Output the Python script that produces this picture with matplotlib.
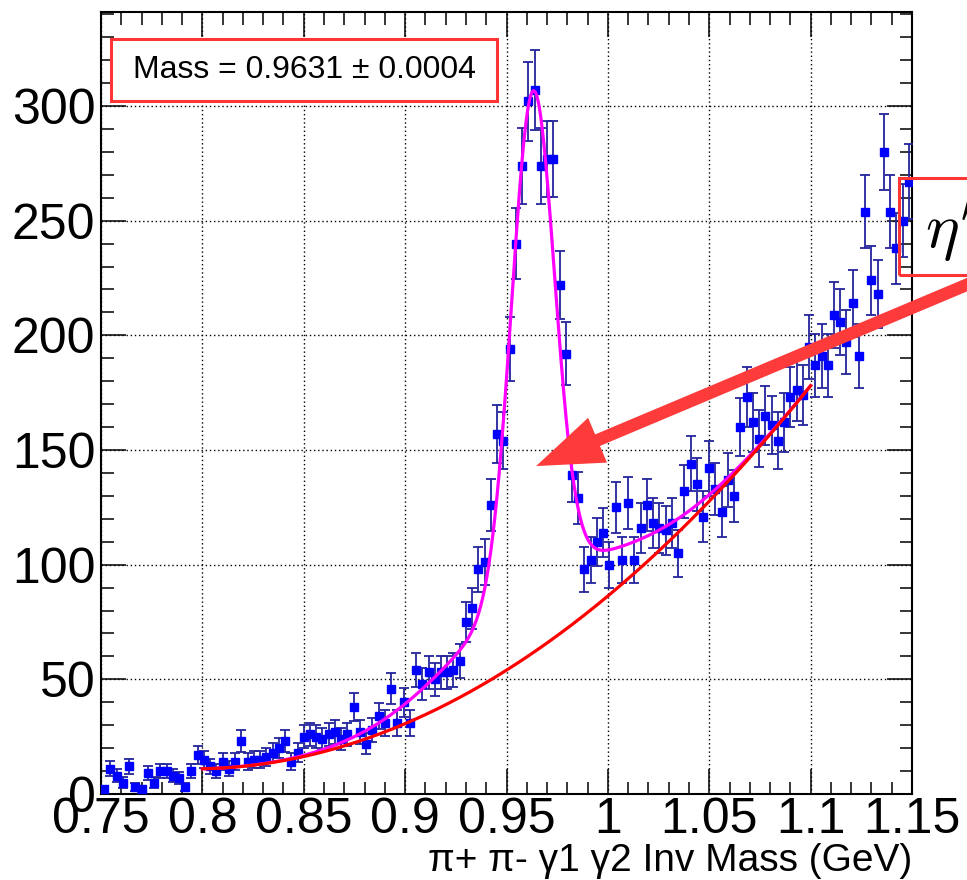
import numpy as np
import matplotlib
matplotlib.use("Agg")
import matplotlib.pyplot as plt
from matplotlib.patches import Rectangle
from matplotlib.ticker import MultipleLocator, FuncFormatter

plt.rcParams["font.family"] = ["Liberation Sans", "DejaVu Sans"]
plt.rcParams["mathtext.fontset"] = "cm"

# histogram range, 130 bins
X_MIN, X_MAX = 0.75, 1.15
Y_MAX = 341

# counts per bin
counts_low = [
    2, 11, 8, 5, 12, 3, 2, 9, 5, 10,
    10, 8, 7, 3, 10, 17, 15, 12, 10, 14,
    11, 14, 23, 14, 15, 15, 16, 18, 20, 23,
    14, 18, 25, 26, 25, 24, 26, 27, 24, 26,
    38, 27, 22, 28, 34, 31, 46, 31, 40, 31,
    54, 48, 53, 50, 53, 53, 54,
]
counts_peak = [
    58, 75, 81, 98, 101, 126, 157, 154, 194, 240,
    274, 302, 307, 274, 277, 277, 222, 192, 139, 129,
    98, 102, 110, 114, 100, 125, 102, 127, 102, 116,
    126, 118, 116, 115, 118, 105, 132, 144, 135, 121,
    142, 133, 123, 137, 130, 160, 173, 162, 155, 165,
    161, 154, 162, 173, 176, 174, 195, 187, 191, 187,
    209, 206, 197, 214, 191, 254, 224, 218, 280, 254,
    238, 250, 267,
]

# fit results
MASS = 0.9631
MASS_ERR = 0.0004
SIG_NARROW, AMP_NARROW = 0.0105, 215
SIG_WIDE, AMP_WIDE = 0.040, 30
BG_COEF = [11.0, 16.7, 1800.0]   # pol2 in (x - 0.8)
FIT_LO, FIT_HI = 0.8, 1.1


def background(x):
    t = x - FIT_LO
    return BG_COEF[0] + BG_COEF[1] * t + BG_COEF[2] * t ** 2


def total(x):
    g1 = AMP_NARROW * np.exp(-0.5 * ((x - MASS) / SIG_NARROW) ** 2)
    g2 = AMP_WIDE * np.exp(-0.5 * ((x - MASS) / SIG_WIDE) ** 2)
    return background(x) + g1 + g2


counts = np.array(counts_low + counts_peak, dtype=float)
edges = np.linspace(X_MIN, X_MAX, len(counts) + 1)
centers = 0.5 * (edges[:-1] + edges[1:])

fig = plt.figure(figsize=(9.67, 8.8), dpi=100)
ax = fig.add_axes([101 / 967, 86 / 880, 811 / 967, 782 / 880])

ax.errorbar(centers, counts, yerr=np.sqrt(counts), fmt="s", ms=5.5,
            mfc="#0000ff", mec="#0000ff", ecolor="#24249c",
            elinewidth=1.3, capsize=3.5, capthick=1.3, zorder=3)

xf = np.linspace(FIT_LO, FIT_HI, 600)
ax.plot(xf, total(xf), color="#ff00ff", lw=2.3, zorder=4)
ax.plot(xf, background(xf), color="#ff0000", lw=2.3, zorder=5)

ax.set_xlim(X_MIN, X_MAX)
ax.set_ylim(0, Y_MAX)

ax.xaxis.set_major_locator(MultipleLocator(0.05))
ax.xaxis.set_minor_locator(MultipleLocator(0.01))
ax.yaxis.set_major_locator(MultipleLocator(50))
ax.yaxis.set_minor_locator(MultipleLocator(10))
ax.xaxis.set_major_formatter(FuncFormatter(lambda v, _: f"{v:g}"))
ax.yaxis.set_major_formatter(FuncFormatter(lambda v, _: f"{v:g}"))

ax.tick_params(which="both", direction="in", top=True, right=True,
               width=1.1, labelsize=36)
ax.tick_params(which="major", length=18)
ax.tick_params(which="minor", length=9)
ax.tick_params(axis="x", pad=2)
ax.tick_params(axis="y", pad=4)
for s in ax.spines.values():
    s.set_linewidth(1.5)

ax.grid(True, which="major", color="black", lw=1.0, ls=(0, (1, 2)))
ax.set_axisbelow(True)

fig.text(912 / 967, 1 - 861 / 880, "π+ π- γ1 γ2 Inv Mass (GeV)",
         ha="right", va="center", fontsize=28)

# mass label box
ax.add_patch(Rectangle((0.0123, 0.886), 0.4758, 0.0795, transform=ax.transAxes,
                       fc="white", ec="#ff3535", lw=2.2, zorder=6))
ax.text(0.039, 0.926, f"Mass = {MASS:.4f} ± {MASS_ERR:.4f}", transform=ax.transAxes,
        ha="left", va="center", fontsize=23, zorder=7)

# eta prime label box (runs off the right edge)
fig.patches.append(Rectangle((899 / 967, 1 - 275 / 880), 0.12, 97 / 880,
                             transform=fig.transFigure, fill=False,
                             ec="#ff3535", lw=2.2, zorder=6))
fig.text(925 / 967, 1 - 248 / 880, r"$\eta^{\prime}$", ha="left",
         va="baseline", fontsize=46)

# arrow pointing at the peak
ax.annotate("", xy=(0.9646, 143), xycoords="data",
            xytext=(990 / 967, 1 - 275 / 880), textcoords="figure fraction",
            annotation_clip=False,
            arrowprops=dict(arrowstyle="simple,head_length=4.8,head_width=3.5,tail_width=0.9",
                            mutation_scale=10, color="#fe3b3b", lw=0,
                            shrinkA=0, shrinkB=0),
            zorder=8)

fig.savefig("out.png", dpi=100)
